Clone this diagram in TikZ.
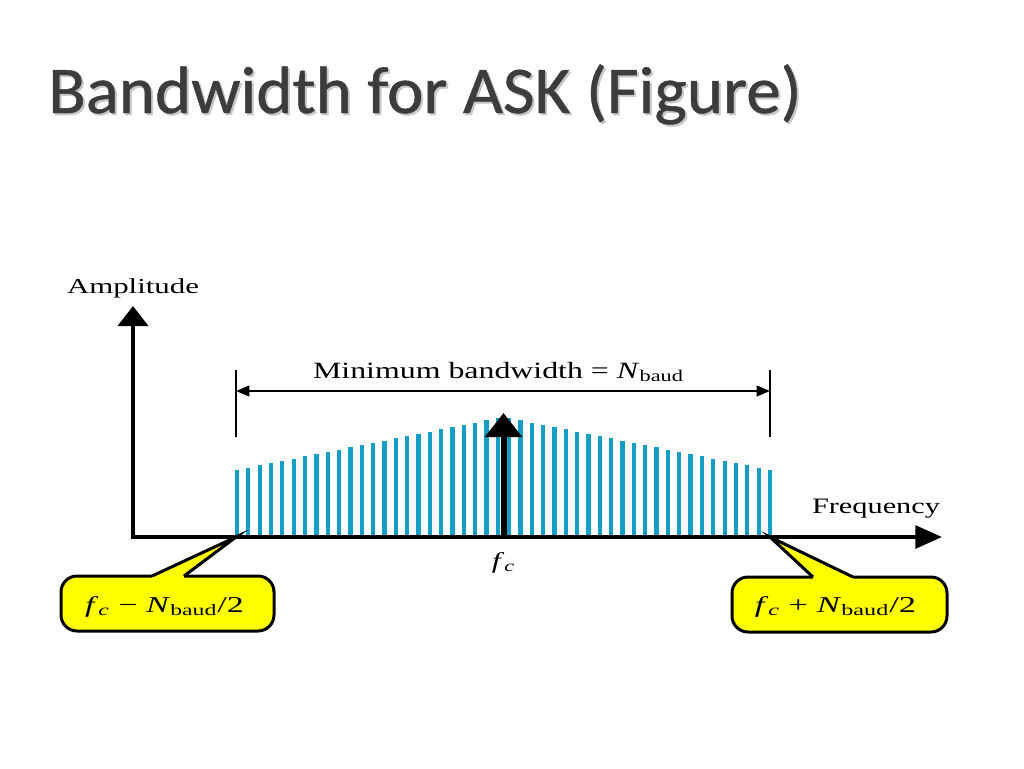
\documentclass[tikz,border=0pt]{standalone}
\usepackage{graphicx}
\usepackage{fontspec}
\setmainfont{Liberation Serif}
\newfontfamily\titlefont{Carlito}[FakeBold=0.7]
\usetikzlibrary{arrows.meta}
\definecolor{barblue}{RGB}{20,158,198}
\definecolor{calloutyellow}{RGB}{255,255,0}
\definecolor{titlegray}{RGB}{60,60,60}
\newcommand{\hfit}[2]{\resizebox{#1}{\height}{#2}}
\newcommand{\fcsym}{\textit{f}\textsubscript{\textit{c}}}
\newcommand{\Nbaud}{\textit{N}\textsubscript{baud}}
\begin{document}
\begin{tikzpicture}[x=0.75pt,y=-0.75pt,
  lbl/.style={inner sep=0pt},
  axisline/.style={line width=3pt, line cap=rect},
  bar/.style={barblue, line width=3.2pt},
  dimline/.style={line width=1.5pt},
  calloutbox/.style={fill=calloutyellow, draw=black, line width=2.25pt, rounded corners=12pt},
  titletext/.style={inner sep=0pt, anchor=base west, font=\titlefont\fontsize{50pt}{60pt}\selectfont}
]
\useasboundingbox (0,0) rectangle (1024,768);
\fill[white] (0,0) rectangle (1024,768);

% title
\node[titletext, text=black!22] at (50,115) {\hfit{565pt}{Bandwidth for ASK (Figure)}};
\node[titletext, text=titlegray] (title) at (48,113) {\hfit{565pt}{Bandwidth for ASK (Figure)}};

% spectrum bars
\foreach \i in {0,...,47} {
  \pgfmathsetmacro\bx{237+\i*11.3404}
  \pgfmathsetmacro\bt{417+0.19887*abs(\bx-503.5)}
  \draw[bar] (\bx,537) -- (\bx,\bt);
}

% coordinates
\coordinate (o) at (133,537);
\coordinate (ytip) at (133,306);
\coordinate (xtip) at (942,537);
\coordinate (tl1) at (236,370);
\coordinate (tl2) at (236,437);
\coordinate (tr1) at (770,370);
\coordinate (tr2) at (770,437);
\coordinate (dl) at (236,391);
\coordinate (dr) at (770,391);
\coordinate (c0) at (503.5,537);
\coordinate (c1) at (503.5,413);

% axes
\draw[axisline, -{Triangle[length=15pt,width=22.5pt]}] (o) -- (ytip);
\draw[axisline, -{Triangle[length=20pt,width=17pt]}] (o) -- (xtip);

% carrier arrow
\draw[line width=4.5pt, -{Triangle[length=18pt,width=27pt]}] (c0) -- (c1);

% bandwidth dimension
\draw[dimline] (tl1) -- (tl2);
\draw[dimline] (tr1) -- (tr2);
\draw[dimline, {Triangle[length=10pt,width=8pt]}-{Triangle[length=10pt,width=8pt]}] (dl) -- (dr);

% labels
\node[lbl, anchor=base, font=\fontsize{16pt}{19pt}\selectfont] (amp) at (133,293) {\hfit{99pt}{Amplitude}};
\node[lbl, anchor=base, font=\fontsize{16.5pt}{19pt}\selectfont] (freq) at (876,513) {\hfit{96pt}{Frequency}};
\node[lbl, anchor=base, font=\fontsize{17.5pt}{20pt}\selectfont] (minbw) at (498.5,378) {\hfit{278pt}{Minimum bandwidth = \Nbaud}};
\node[lbl, anchor=base, font=\fontsize{17pt}{20pt}\selectfont] (fc) at (503.5,568) {\hfit{17.5pt}{\fcsym}};

% left callout
\draw[calloutbox] (61,576) rectangle (274,631);
\fill[calloutyellow] (152,579) -- (152,576) -- (236,537) -- (184,576) -- (184,579) -- cycle;
\draw[line width=2.25pt, line join=miter] (152,576) -- (236,537) -- (184,576);
\node[lbl, anchor=base, font=\fontsize{17pt}{20pt}\selectfont] (lcall) at (164.5,612) {\hfit{119pt}{\fcsym\ − \Nbaud/2}};

% right callout
\draw[calloutbox] (732,577) rectangle (947,632);
\fill[calloutyellow] (813,580) -- (813,577) -- (770,537) -- (853,577) -- (853,580) -- cycle;
\draw[line width=2.25pt, line join=miter] (813,577) -- (770,537) -- (853,577);
\node[lbl, anchor=base, font=\fontsize{17pt}{20pt}\selectfont] (rcall) at (835.5,612) {\hfit{121pt}{\fcsym\ + \Nbaud/2}};
\end{tikzpicture}
\end{document}
